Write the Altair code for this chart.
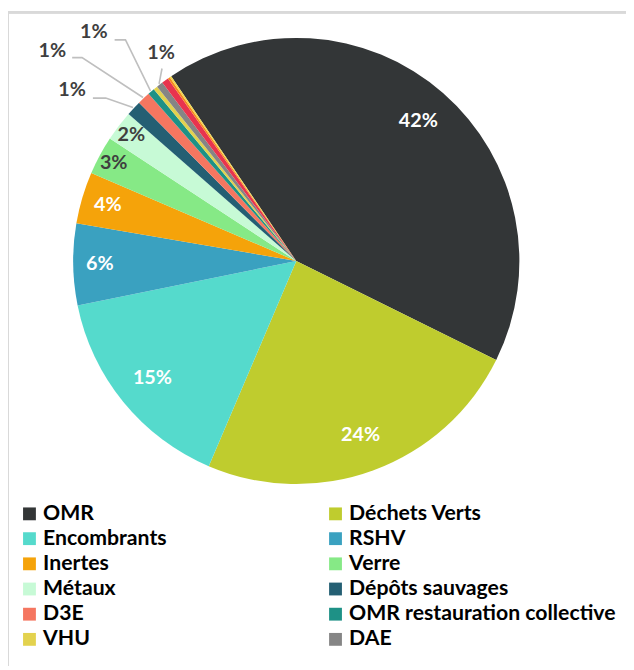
import math
import altair as alt
import pandas as pd

# ---------------- data ----------------
categories = ["OMR", "Déchets Verts", "Encombrants", "RSHV", "Inertes", "Verre",
              "Métaux", "Dépôts sauvages", "D3E", "OMR restauration collective",
              "VHU", "DAE", "Autre 1", "Autre 2", "Autre 3"]
values = [41.8, 24.1, 15.4, 5.9, 3.75, 2.8, 2.2, 1.1, 0.92, 0.5, 0.3, 0.47, 0.5, 0.16, 0.12]
pct_labels = ["42%", "24%", "15%", "6%", "4%", "3%", "2%", "1%", "1%", "1%", "", "1%", "", "", ""]
legend_items = categories[:12]

colors = ["#333637", "#BFCC2E", "#55DACC", "#3AA1C0", "#F5A30A", "#86E986",
          "#C7FAD6", "#245F73", "#F57660", "#1E9186", "#E3D24E", "#858585",
          "#E8344E", "#F7891E", "#F2D64A"]

# ---------------- layout / style ----------------
W, H = 626, 662
CX, CY = 292, 252
R = 226
START = math.radians(-34.1) + 2 * math.pi
FONT = "Lato"
DARK = "#3F3F3F"

big = {"42%", "24%", "15%"}
mid_white = {"6%", "4%"}
mid_dark = {"3%", "2%"}
outer = {"Dépôts sauvages", "D3E", "OMR restauration collective", "DAE"}

df = pd.DataFrame({"cat": categories, "value": values, "label": pct_labels,
                   "idx": list(range(len(categories)))})
df["lab_big"] = [l if l in big else "" for l in pct_labels]
df["lab_mw"] = [l if l in mid_white else "" for l in pct_labels]
df["lab_md"] = [l if l in mid_dark else "" for l in pct_labels]

# outer label placement (style): text anchor and leader elbow points
OUTER_POS = {
    "Dépôts sauvages": {"t": (65, 79), "pts": [(86, 87), (99, 87)]},
    "D3E": {"t": (45, 39), "pts": [(65, 46), (75, 46)]},
    "OMR restauration collective": {"t": (87, 20), "pts": [(108, 28), (119, 28)]},
    "DAE": {"t": (155, 41), "pts": [(156, 57)]},
}

total = sum(values)
cum = 0.0
line_rows, text_rows = [], []
for c, v, l in zip(categories, values, pct_labels):
    a = START + 2 * math.pi * (cum + v / 2) / total
    cum += v
    if c in outer:
        p = OUTER_POS[c]
        ex, ey = CX + (R + 1) * math.sin(a), CY - (R + 1) * math.cos(a)
        pts = p["pts"] + [(ex, ey)]
        for k, (x, y) in enumerate(pts):
            line_rows.append({"cat": c, "k": k, "x": x, "y": y})
        text_rows.append({"cat": c, "x": p["t"][0], "y": p["t"][1], "label": l})
lines_df = pd.DataFrame(line_rows)
texts_df = pd.DataFrame(text_rows)

theta = alt.Theta("value:Q", stack=True,
                  scale=alt.Scale(range=[START, START + 2 * math.pi]))
order = alt.Order("idx:Q", sort="ascending")

base = alt.Chart(df).encode(theta=theta, order=order,
                            x=alt.value(CX), y=alt.value(CY))

arcs = base.mark_arc(outerRadius=R).encode(
    color=alt.Color("cat:N",
                    scale=alt.Scale(domain=categories, range=colors),
                    legend=alt.Legend(
                        values=legend_items, title=None, orient="none",
                        direction="horizontal",
                        legendX=11, legendY=497, columns=2, gridAlign="all",
                        columnPadding=15, rowPadding=2.5, padding=0,
                        symbolType="square", symbolSize=169,
                        symbolStrokeWidth=0, labelFont=FONT,
                        labelFontSize=21.5, labelFontWeight="bold",
                        labelColor="#000000", labelLimit=500, labelOffset=3)),
)

t_big = base.mark_text(radius=188, font=FONT, fontSize=20, fontWeight="bold",
                       color="white").encode(text="lab_big:N")
t_mw = base.mark_text(radius=199, font=FONT, fontSize=20, fontWeight="bold",
                      color="white").encode(text="lab_mw:N")
t_md = base.mark_text(radius=210, font=FONT, fontSize=20, fontWeight="bold",
                      color=DARK).encode(text="lab_md:N")

xs = alt.Scale(domain=[0, W], nice=False, zero=False)
ys = alt.Scale(domain=[0, H], nice=False, zero=False, reverse=True)

leaders = alt.Chart(lines_df).mark_line(color="#BFBFBF", strokeWidth=1.6).encode(
    x=alt.X("x:Q", scale=xs, axis=None),
    y=alt.Y("y:Q", scale=ys, axis=None),
    detail="cat:N", order="k:Q")

outer_text = alt.Chart(texts_df).mark_text(font=FONT, fontSize=20, fontWeight="bold",
                                           color=DARK).encode(
    x=alt.X("x:Q", scale=xs, axis=None),
    y=alt.Y("y:Q", scale=ys, axis=None),
    text="label:N")

border = alt.Chart(df).mark_rule(color="#D9D9D9", strokeWidth=2).encode(
    x=alt.value(0), x2=alt.value(W), y=alt.value(0))
border2 = alt.Chart(df).mark_rule(color="#D9D9D9", strokeWidth=2).encode(
    x=alt.value(0), y=alt.value(0), y2=alt.value(H))

chart = alt.layer(border, border2, arcs, t_big, t_mw, t_md, leaders, outer_text).properties(
    width=W, height=H, padding=0, autosize=alt.AutoSizeParams(type="none")
).configure_view(stroke=None).resolve_scale(x="shared", y="shared")

chart.save("out.html", embed_options={"renderer": "svg", "actions": False})
